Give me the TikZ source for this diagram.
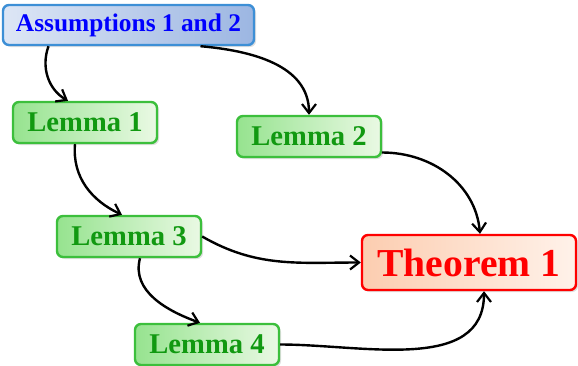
\documentclass[tikz,border=0pt]{standalone}
\usepackage{fontspec}
\setmainfont{Liberation Serif}
\usepackage{xcolor}
\definecolor{asmborder}{HTML}{3D8FD6}
\definecolor{asmleft}{HTML}{DDE6F5}
\definecolor{asmright}{HTML}{9CB6E2}
\definecolor{lemborder}{HTML}{3CBF3C}
\definecolor{lemleft}{HTML}{96E38F}
\definecolor{lemright}{HTML}{EAF9E4}
\definecolor{lemtext}{HTML}{119911}
\definecolor{thmleft}{HTML}{FCCDB0}
\definecolor{thmright}{HTML}{FFF2EA}
\usepackage{tikz}
\usetikzlibrary{arrows.meta, shadows}

\tikzset{
	box/.style={draw, line width=1.2pt, rounded corners=3pt, inner sep=0pt, font=\bfseries,
		drop shadow={shadow xshift=1pt, shadow yshift=-1pt, opacity=0.25}},
	asmbox/.style={box, draw=asmborder, left color=asmleft, right color=asmright, text=blue,
		minimum width=125.5pt, minimum height=20pt, font=\bfseries\fontsize{12.7}{14}\selectfont},
	lembox/.style={box, draw=lemborder, left color=lemleft, right color=lemright, text=lemtext,
		minimum width=72pt, minimum height=20.5pt, font=\bfseries\fontsize{14.3}{16}\selectfont},
	thmbox/.style={box, draw=red, left color=thmleft, right color=thmright, text=red,
		minimum width=107pt, minimum height=27.5pt, font=\bfseries\fontsize{19.8}{22}\selectfont},
	link/.style={-{Straight Barb[length=4.5pt, width=7pt, line width=1.1pt]}, line width=1.2pt, black}
}

\begin{document}
\begin{tikzpicture}[x=0.5pt, y=-0.5pt]
	\useasboundingbox (0, 0) rectangle (578, 365);
	
	% nodes
	\node[asmbox] (asm) at (128.5, 25) {Assumptions 1 and 2};
	\node[lembox] (lem1) at (85, 122.5) {Lemma 1};
	\node[lembox] (lem2) at (309, 136.5) {Lemma 2};
	\node[lembox] (lem3) at (129, 236.5) {Lemma 3};
	\node[lembox] (lem4) at (207, 344.5) {Lemma 4};
	\node[thmbox] (thm) at (469, 262.5) {Theorem 1};
	
	% connectors
	\draw[link] ([xshift=-40pt]asm.south) to[out=250, in=150] ([xshift=-8.5pt]lem1.north);
	\draw[link] ([xshift=36pt]asm.south) to[out=-5, in=90] (lem2.north);
	\draw[link] ([xshift=-5pt]lem1.south) to[out=265, in=155] ([xshift=-3.5pt]lem3.north);
	\draw[link] ([yshift=-8pt]lem2.east) to[out=0, in=95] ([xshift=5.5pt]thm.north);
	\draw[link] (lem3.east) to[out=-30, in=180] (thm.west);
	\draw[link] ([xshift=5.5pt]lem3.south) to[out=255, in=160] ([xshift=-3.5pt]lem4.north);
	\draw[link] (lem4.east) to[out=0, in=-90] ([xshift=7.5pt]thm.south);
\end{tikzpicture}
\end{document}
